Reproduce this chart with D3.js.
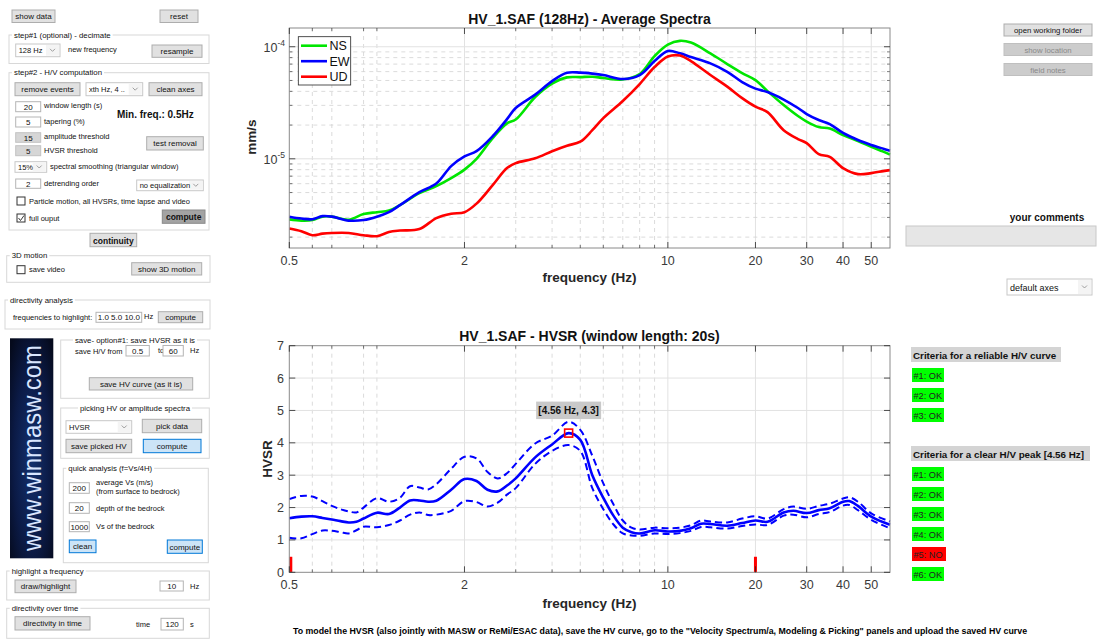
<!DOCTYPE html>
<html><head><meta charset="utf-8">
<script src="https://cdn.jsdelivr.net/npm/d3@7"></script>
<style>
body{margin:0;background:#fff;overflow:hidden;}
svg text{font-family:"Liberation Sans",Arial,Helvetica,sans-serif;}
</style></head><body>
<svg id="c" width="1097" height="641"></svg>
<script>
// ---------------- DATA ----------------
// Average spectra (values in 1e-6 mm/s)
const specFreqs = [0.5,0.55,0.6,0.65,0.7,0.8,0.9,1.0,1.1,1.2,1.4,1.6,1.8,2.0,2.2,2.5,2.8,3.0,3.5,4.0,4.5,5.0,5.5,6,7,8,9,10,11,12,14,16,18,20,22,25,28,30,33,36,40,45,50,55,58];
const nsValues = [2.88,2.81,2.84,3.05,3.05,2.86,3.21,3.34,3.45,3.86,4.94,5.71,6.73,8.01,10.0,15.3,20.7,22.4,35.6,46.9,53.3,53.6,54.0,52.6,51.0,57.1,82.6,104.6,112.9,109.0,87.3,70.1,58.2,50.4,40.2,30.2,24.1,21.5,19.2,18.6,16.3,14.4,12.8,11.6,10.9];
const ewValues = [3.04,2.93,2.89,3.08,3.05,2.81,2.84,3.04,3.34,3.86,5.04,6.01,8.61,10.5,11.7,15.9,22.6,28.4,37.4,49.4,58.6,58.8,57.6,55.9,51.5,55.9,74.5,91.6,87.3,80.9,71.1,59.8,48.4,42.3,39.4,33.8,28.4,25.1,22.2,20.4,17.0,14.7,13.3,12.3,11.8];
const udValues = [2.39,2.26,2.08,2.15,2.18,2.18,2.08,2.04,2.22,2.29,2.36,2.96,3.24,3.34,3.98,5.82,8.26,9.15,10.1,11.7,13.1,14.2,18.0,23.1,32.8,46.5,65.9,81.8,83.5,74.5,55.9,44.1,34.8,29.2,26.1,18.0,15.0,13.8,11.0,10.4,8.26,7.30,7.45,7.77,7.93];
const seriesNames = ["NS","EW","UD"];
const seriesColors = ["#00e600","#0000ff","#ff0000"];

// HVSR curve
const hvFreqs = [0.5,0.55,0.6,0.65,0.7,0.75,0.8,0.85,0.9,1.0,1.1,1.2,1.3,1.4,1.5,1.6,1.8,2.0,2.2,2.4,2.6,2.8,3.0,3.5,4.0,4.56,5.0,5.5,6,6.5,7,7.5,8,9,10,11,12,13,14,16,18,20,22,25,27,30,33,36,40,42,45,50,58];
const hvMean  = [1.67,1.72,1.73,1.68,1.63,1.58,1.54,1.56,1.66,1.84,1.80,2.0,2.22,2.22,2.18,2.21,2.55,2.88,2.82,2.55,2.5,2.68,2.9,3.55,3.95,4.3,4.09,3.0,2.3,1.75,1.38,1.24,1.2,1.3,1.26,1.28,1.36,1.5,1.49,1.44,1.52,1.6,1.56,1.85,1.9,1.83,1.92,1.98,2.18,2.2,2.05,1.72,1.47];
const hvUpper = [2.26,2.36,2.34,2.2,2.05,1.95,1.88,1.85,2.0,2.29,2.18,2.3,2.66,2.62,2.56,2.72,3.2,3.57,3.52,3.1,2.9,3.06,3.35,3.98,4.22,4.65,4.4,3.6,2.75,2.1,1.6,1.38,1.32,1.38,1.36,1.38,1.45,1.6,1.57,1.54,1.66,1.73,1.66,1.95,2.03,1.96,2.05,2.12,2.28,2.32,2.18,1.82,1.57];
const hvLower = [1.07,1.05,1.18,1.29,1.28,1.24,1.2,1.3,1.41,1.39,1.46,1.6,1.78,1.85,1.77,1.78,1.9,2.2,2.17,2.03,2.15,2.4,2.6,3.35,3.75,3.93,3.75,2.6,1.95,1.48,1.2,1.14,1.13,1.2,1.18,1.21,1.28,1.4,1.39,1.35,1.43,1.48,1.46,1.75,1.78,1.7,1.8,1.86,2.06,2.08,1.92,1.62,1.36];
const peakFreq = 4.56, peakHV = 4.3;
const freqRangeMarks = [0.5, 20];

// axes
const xDomain = [0.5, 58];
const xTickValues = [0.5,2,10,20,30,40,50];
const xMinorValues = [0.6,0.7,0.9,1,3,4,5,6,7,8,9];
const specDomain = [1.6e-6, 1.47e-4];
const specMajor = [1e-5, 1e-4];
const hvDomain = [0, 7];
const hvTicks = [0,1,2,3,4,5,6,7];

// criteria
const reliableCrit = ["#1: OK","#2: OK","#3: OK"];
const peakCrit = ["#1: OK","#2: OK","#3: OK","#4: OK","#5: NO","#6: OK"];

// ---------------- DRAW ----------------
const svg = d3.select("#c");
const FONT = '"Liberation Sans",Arial,sans-serif';
const AX = "#262626";

const x = d3.scaleLog().domain(xDomain).range([289.3, 890]);
const yS = d3.scaleLog().domain(specDomain).range([248, 28]);
const yH = d3.scaleLinear().domain(hvDomain).range([572.3, 345.7]);

function gridAndAxes(g, y, top, bottom, isLog) {
  const L = x.range()[0], R = x.range()[1];
  g.selectAll(null).data(xMinorValues).enter().append("line")
    .attr("x1", d => x(d)).attr("x2", d => x(d)).attr("y1", top).attr("y2", bottom)
    .attr("stroke", "#d2d2d2").attr("stroke-dasharray", "4,4").attr("stroke-width", 0.8);
  g.selectAll(null).data(xTickValues.slice(1)).enter().append("line")
    .attr("x1", d => x(d)).attr("x2", d => x(d)).attr("y1", top).attr("y2", bottom)
    .attr("stroke", "#e2e2e2").attr("stroke-width", 1);
  if (isLog) {
    const minors = [];
    [1e-6, 1e-5, 1e-4].forEach(dec => { for (let k = 2; k <= 9; k++) { const v = k * dec; if (v > specDomain[0] && v < specDomain[1]) minors.push(v); } });
    g.selectAll(null).data(minors).enter().append("line")
      .attr("x1", L).attr("x2", R).attr("y1", d => y(d)).attr("y2", d => y(d))
      .attr("stroke", "#d2d2d2").attr("stroke-dasharray", "4,4").attr("stroke-width", 0.8);
    g.selectAll(null).data(specMajor).enter().append("line")
      .attr("x1", L).attr("x2", R).attr("y1", d => y(d)).attr("y2", d => y(d))
      .attr("stroke", "#e2e2e2").attr("stroke-width", 1);
    g.selectAll(null).data(minors).enter().append("path")
      .attr("d", d => `M${L},${y(d)}h3M${R},${y(d)}h-3`).attr("stroke", AX).attr("stroke-width", 0.6);
  } else {
    g.selectAll(null).data(hvTicks.slice(1, -1)).enter().append("line")
      .attr("x1", L).attr("x2", R).attr("y1", d => y(d)).attr("y2", d => y(d))
      .attr("stroke", "#e2e2e2").attr("stroke-width", 1);
  }
}

function frame(g, y, top, bottom, yTicks, isLog) {
  const L = x.range()[0], R = x.range()[1];
  g.append("rect").attr("x", L).attr("y", top).attr("width", R - L).attr("height", bottom - top)
    .attr("fill", "none").attr("stroke", "#8a8a8a").attr("stroke-width", 1);
  g.selectAll(null).data(xTickValues).enter().append("path")
    .attr("d", d => `M${x(d)},${bottom}v-6M${x(d)},${top}v6`).attr("stroke", AX).attr("stroke-width", 0.8);
  g.selectAll(null).data(xMinorValues).enter().append("path")
    .attr("d", d => `M${x(d)},${bottom}v-3M${x(d)},${top}v3`).attr("stroke", AX).attr("stroke-width", 0.6);
  g.selectAll(null).data(yTicks).enter().append("path")
    .attr("d", d => `M${L},${y(d)}h6M${R},${y(d)}h-6`).attr("stroke", AX).attr("stroke-width", 0.8);
  g.selectAll(null).data(xTickValues).enter().append("text")
    .attr("x", d => x(d)).attr("y", bottom + 17).attr("text-anchor", "middle")
    .attr("font-size", 12.5).attr("fill", "#3a3a3a").text(d => d);
  if (isLog) {
    yTicks.forEach(d => {
      const t = g.append("text").attr("x", 285).attr("y", y(d) + 5).attr("text-anchor", "end")
        .attr("font-size", 12.5).attr("fill", "#3a3a3a");
      t.append("tspan").text("10");
      t.append("tspan").attr("dy", -6).attr("font-size", 8.5).text(Math.round(Math.log10(d)));
    });
  } else {
    g.selectAll(null).data(yTicks).enter().append("text")
      .attr("x", 284).attr("y", d => y(d) + 4.5).attr("text-anchor", "end")
      .attr("font-size", 12.5).attr("fill", "#3a3a3a").text(d => d);
  }
}

// ---- top chart ----
const gTop = svg.append("g");
gridAndAxes(gTop, yS, 28, 248, true);
const specSeries = [nsValues, ewValues, udValues];
const lineSpec = d3.line().curve(d3.curveCatmullRom.alpha(0.5))
  .x((d, i) => x(specFreqs[i])).y(d => yS(d * 1e-6));
specSeries.forEach((s, i) => {
  gTop.append("path").attr("d", lineSpec(s)).attr("fill", "none")
    .attr("stroke", seriesColors[i]).attr("stroke-width", 2.6).attr("stroke-linejoin", "round");
});
frame(gTop, yS, 28, 248, specMajor, true);
gTop.append("text").attr("x", 589.5).attr("y", 23.5).attr("text-anchor", "middle")
  .attr("font-size", 14).attr("font-weight", "bold").attr("fill", "#111").text("HV_1.SAF (128Hz) - Average Spectra");
gTop.append("text").attr("x", 589.5).attr("y", 282).attr("text-anchor", "middle")
  .attr("font-size", 13.5).attr("font-weight", "bold").attr("fill", "#262626").text("frequency (Hz)");
gTop.append("text").attr("transform", "translate(256,137) rotate(-90)").attr("text-anchor", "middle")
  .attr("font-size", 13.5).attr("font-weight", "bold").attr("fill", "#262626").text("mm/s");
const lg = gTop.append("g");
lg.append("rect").attr("x", 298.3).attr("y", 36.7).attr("width", 52.4).attr("height", 48.3)
  .attr("fill", "#fff").attr("stroke", "#262626").attr("stroke-width", 0.8);
seriesNames.forEach((n, i) => {
  const yy = 45.7 + i * 15.5;
  lg.append("line").attr("x1", 301).attr("x2", 327).attr("y1", yy).attr("y2", yy)
    .attr("stroke", seriesColors[i]).attr("stroke-width", 2.6);
  lg.append("text").attr("x", 329.5).attr("y", yy + 4.5).attr("font-size", 12.5).attr("fill", "#111").text(n);
});

// ---- bottom chart ----
const gBot = svg.append("g");
gridAndAxes(gBot, yH, 345.7, 572.3, false);
const lineHV = (arr) => d3.line().curve(d3.curveCatmullRom.alpha(0.5))
  .x((d, i) => x(hvFreqs[i])).y(d => yH(d))(arr);
gBot.append("path").attr("d", lineHV(hvUpper)).attr("fill", "none").attr("stroke", "#0000ff")
  .attr("stroke-width", 2).attr("stroke-dasharray", "7,4");
gBot.append("path").attr("d", lineHV(hvLower)).attr("fill", "none").attr("stroke", "#0000ff")
  .attr("stroke-width", 2).attr("stroke-dasharray", "7,4");
gBot.append("path").attr("d", lineHV(hvMean)).attr("fill", "none").attr("stroke", "#0000ff")
  .attr("stroke-width", 2.6);
freqRangeMarks.forEach(f => {
  const off = f === xDomain[0] ? 1.5 : 0;
  gBot.append("line").attr("x1", x(f) + off).attr("x2", x(f) + off)
    .attr("y1", yH(0)).attr("y2", yH(0.48)).attr("stroke", "#ff0000").attr("stroke-width", 3);
});
frame(gBot, yH, 345.7, 572.3, hvTicks, false);
gBot.append("rect").attr("x", x(peakFreq) - 4).attr("y", yH(peakHV) - 4).attr("width", 8).attr("height", 8)
  .attr("fill", "none").attr("stroke", "#ff0000").attr("stroke-width", 1.6);
gBot.append("rect").attr("x", x(peakFreq) - 32.5).attr("y", yH(peakHV) - 31.5).attr("width", 65).attr("height", 17.5)
  .attr("fill", "#c9c9c9");
gBot.append("text").attr("x", x(peakFreq)).attr("y", yH(peakHV) - 19).attr("text-anchor", "middle")
  .attr("font-size", 10).attr("font-weight", "bold").attr("fill", "#111").text(`[${peakFreq} Hz, ${peakHV}]`);
gBot.append("text").attr("x", 589.5).attr("y", 341).attr("text-anchor", "middle")
  .attr("font-size", 14).attr("font-weight", "bold").attr("fill", "#111").text("HV_1.SAF - HVSR (window length: 20s)");
gBot.append("text").attr("x", 589.5).attr("y", 608).attr("text-anchor", "middle")
  .attr("font-size", 13.5).attr("font-weight", "bold").attr("fill", "#262626").text("frequency (Hz)");
gBot.append("text").attr("transform", "translate(271.5,459) rotate(-90)").attr("text-anchor", "middle")
  .attr("font-size", 13.5).attr("font-weight", "bold").attr("fill", "#262626").text("HVSR");

svg.append("text").attr("x", 660).attr("y", 634).attr("text-anchor", "middle")
  .attr("font-size", 8.8).attr("font-weight", "bold").attr("fill", "#000")
  .text('To model the HVSR (also jointly with MASW or ReMi/ESAC data), save the HV curve, go to the "Velocity Spectrum/a, Modeling & Picking" panels and upload the saved HV curve');

// ---------------- GUI widgets ----------------
const ui = svg.append("g");
function txt(xx, yy, s, o = {}) {
  return ui.append("text").attr("x", xx).attr("y", yy).attr("font-size", o.size || 7.5)
    .attr("font-weight", o.bold ? "bold" : "normal").attr("fill", o.color || "#111")
    .attr("text-anchor", o.anchor || "start").attr("dominant-baseline", "central").text(s);
}
function button(x0, y0, w, h, s, o = {}) {
  const st = {gray: ["#e1e1e1", "#adadad"], dark: ["#a3a3a3", "#8a8a8a"], blue: ["#cce4f7", "#0078d7"], dis: ["#cccccc", "#bfbfbf"]}[o.style || "gray"];
  ui.append("rect").attr("x", x0).attr("y", y0).attr("width", w).attr("height", h).attr("fill", st[0]).attr("stroke", st[1]).attr("stroke-width", 1);
  txt(x0 + w / 2, y0 + h / 2 + 0.5, s, {anchor: "middle", size: o.size || 8, bold: o.bold, color: o.style === "dis" ? "#8a8a8a" : "#111"});
}
function input(x0, y0, w, h, s, o = {}) {
  ui.append("rect").attr("x", x0).attr("y", y0).attr("width", w).attr("height", h).attr("fill", o.gray ? "#d6d6d6" : "#fff").attr("stroke", o.gray ? "#c2c2c2" : "#b5b5b5");
  txt(x0 + w / 2, y0 + h / 2 + 0.5, s, {anchor: "middle", size: 8});
}
function dropdown(x0, y0, w, h, s, size) {
  ui.append("rect").attr("x", x0).attr("y", y0).attr("width", w).attr("height", h).attr("fill", "#fff").attr("stroke", "#c8c8c8");
  ui.append("rect").attr("x", x0 + w - 14).attr("y", y0 + 1).attr("width", 13).attr("height", h - 2).attr("fill", "#f4f4f4");
  ui.append("path").attr("d", `M${x0 + w - 10},${y0 + h / 2 - 1.5}l2.5,2.5l2.5,-2.5`).attr("fill", "none").attr("stroke", "#888").attr("stroke-width", 0.8);
  txt(x0 + 3, y0 + h / 2 + 0.5, s, {size: size || 7.5});
}
function checkbox(x0, y0, checked) {
  ui.append("rect").attr("x", x0).attr("y", y0).attr("width", 8).attr("height", 8).attr("fill", "#fff").attr("stroke", "#333");
  if (checked) ui.append("path").attr("d", `M${x0 + 1.5},${y0 + 4}l2,2.5l3.5,-5`).attr("fill", "none").attr("stroke", "#222").attr("stroke-width", 0.9);
}
function panel(x0, y0, w, h, title, center) {
  ui.append("rect").attr("x", x0).attr("y", y0).attr("width", w).attr("height", h).attr("fill", "none").attr("stroke", "#d8d8d8");
  const t = txt(center ? x0 + w / 2 : x0 + 5, y0, title, {size: 7.8, anchor: center ? "middle" : "start"});
  const len = t.node().getComputedTextLength();
  const sx = center ? x0 + w / 2 - len / 2 : x0 + 5;
  ui.insert("rect", () => t.node()).attr("x", sx - 2).attr("y", y0 - 4).attr("width", len + 4).attr("height", 8).attr("fill", "#fff");
}

button(12, 10, 43, 12.5, "show data");
button(160, 10, 38, 12.5, "reset");
panel(9, 35, 200, 28.5, "step#1 (optional) - decimate");
dropdown(15.7, 44, 44.3, 12.7, "128 Hz");
txt(68, 49.5, "new frequency");
button(152, 45, 50, 12.3, "resample");
panel(9, 72.7, 200, 157.3, "step#2 - H/V computation");
button(15, 82.7, 65, 13, "remove events");
dropdown(86, 82.7, 56.7, 13, "xth Hz, 4 ..");
button(149, 82.7, 53, 13, "clean axes");
input(15.7, 101.7, 25, 10, "20"); txt(44, 105, "window length (s)");
input(15.7, 117, 25, 10, "5"); txt(44, 121.5, "tapering (%)");
input(15.7, 132.7, 25, 9.6, "15", {gray: true}); txt(44, 136.5, "amplitude threshold");
input(15.7, 145.7, 25, 10, "5", {gray: true}); txt(44, 150.5, "HVSR threshold");
txt(117, 114.5, "Min. freq.: 0.5Hz", {bold: true, size: 10});
button(146.7, 136.7, 56.6, 13.3, "test removal");
dropdown(15, 161.7, 31.7, 10.6, "15%"); txt(50, 166.5, "spectral smoothing (triangular window)");
input(15.7, 179, 25, 9.3, "2"); txt(44, 183.5, "detrending order");
dropdown(136.7, 180, 66.6, 10.7, "no equalization");
checkbox(17, 197, false); txt(29, 201, "Particle motion, all HVSRs, time lapse and video");
checkbox(17, 214, true); txt(29, 218, "full ouput");
button(162.3, 210, 42.7, 13.3, "compute", {style: "dark", bold: true, size: 8.5});
button(90, 233.3, 46.7, 13.4, "continuity", {bold: true, size: 8.5});
panel(6.7, 255.7, 203.3, 26.6, "3D motion");
checkbox(17, 265.7, false); txt(29, 269.5, "save video");
button(131.7, 262.7, 70, 12.3, "show 3D motion");
panel(5, 300, 205, 29, "directivity analysis");
txt(13, 317, "frequencies to highlight:");
input(96, 312.3, 45.7, 10, "1.0  5.0 10.0"); txt(144, 316.5, "Hz");
button(158.3, 311.7, 44.4, 11, "compute");

// winmasw banner
const defs = svg.append("defs");
const grad = defs.append("radialGradient").attr("id", "gw").attr("cx", "0.5").attr("cy", "0.55").attr("r", "0.7");
grad.append("stop").attr("offset", "0").attr("stop-color", "#13306e");
grad.append("stop").attr("offset", "0.6").attr("stop-color", "#0b1a45");
grad.append("stop").attr("offset", "1").attr("stop-color", "#050a1c");
ui.append("rect").attr("x", 10).attr("y", 338.3).attr("width", 43.3).attr("height", 220).attr("fill", "url(#gw)");
ui.append("text").attr("transform", "translate(41,448) rotate(-90)").attr("text-anchor", "middle")
  .attr("font-size", 25).attr("fill", "#d9e6ff").attr("textLength", 206).attr("lengthAdjust", "spacingAndGlyphs")
  .attr("font-family", FONT).text("www.winmasw.com");

panel(60.7, 340, 148.6, 58.3, "save- option#1: save HVSR as it is", true);
txt(75, 351, "save H/V from");
input(126, 345.5, 23.3, 10.5, "0.5"); txt(158, 350.5, "to");
input(163, 345.5, 20.3, 10.5, "60"); txt(190, 350, "Hz");
button(89.3, 377.7, 103.4, 12.3, "save HV curve (as it is)");
panel(60.7, 408, 148.6, 50.3, "picking HV or amplitude spectra", true);
dropdown(66, 420.7, 65.7, 12.6, "HVSR");
button(142.3, 419.3, 59.4, 13.4, "pick data");
button(66, 439.3, 65.7, 13.4, "save picked HV");
button(143.3, 439.3, 57.7, 13.4, "compute", {style: "blue"});
panel(63.3, 468.3, 145, 94.4, "quick analysis (f=Vs/4H)");
input(69.3, 482.7, 20, 10.6, "200"); txt(96, 482, "average Vs (m/s)"); txt(96, 491.5, "(from surface to bedrock)");
input(69.3, 502.7, 20, 10.6, "20"); txt(96, 508, "depth of the bedrock");
input(69.3, 521.7, 20, 10, "1000"); txt(96, 526.5, "Vs of the bedrock");
button(69.3, 540, 26.7, 12.7, "clean", {style: "blue"});
button(167.3, 540, 35, 13.3, "compute", {style: "blue"});
panel(6.7, 571, 202.6, 29, "highlight a frequency");
button(15, 580, 61, 12.7, "draw/highlight");
input(160, 581, 23.3, 10, "10"); txt(190, 586, "Hz");
panel(6.7, 608.3, 202.6, 30, "directivity over time");
button(15, 616.7, 75, 13.3, "directivity in time");
txt(136, 624.5, "time"); input(161, 618.3, 22.3, 11.7, "120"); txt(190, 624, "s");

// right panel
button(1004, 24, 88, 12, "open working folder", {size: 7.8});
button(1004, 43.5, 88, 12, "show location", {style: "dis", size: 7.8});
button(1004, 63.5, 88, 12, "field notes", {style: "dis", size: 7.8});
txt(1047, 217, "your comments", {bold: true, size: 10, anchor: "middle"});
ui.append("rect").attr("x", 906).attr("y", 226).attr("width", 190).attr("height", 20).attr("fill", "#e6e6e6").attr("stroke", "#c8c8c8");
dropdown(1007, 279, 85, 16, "default axes", 9);

function critHeader(y0, w, s) {
  ui.append("rect").attr("x", 911).attr("y", y0).attr("width", w).attr("height", 15).attr("fill", "#d4d4d4");
  txt(913, y0 + 8, s, {bold: true, size: 9.8});
}
function critBox(y0, s) {
  const ok = s.indexOf("OK") >= 0;
  ui.append("rect").attr("x", 912).attr("y", y0).attr("width", ok ? 32 : 34).attr("height", 14).attr("fill", ok ? "#00ff00" : "#ff0000");
  txt(913.5, y0 + 7.5, s, {size: 9.2, color: "#222"});
}
critHeader(347, 150, "Criteria for a reliable H/V curve");
reliableCrit.forEach((s, i) => critBox(368 + i * 20, s));
critHeader(446, 179, "Criteria for a clear H/V peak [" + peakFreq + " Hz]");
peakCrit.forEach((s, i) => critBox(467 + i * 20, s));
</script>
</body></html>
